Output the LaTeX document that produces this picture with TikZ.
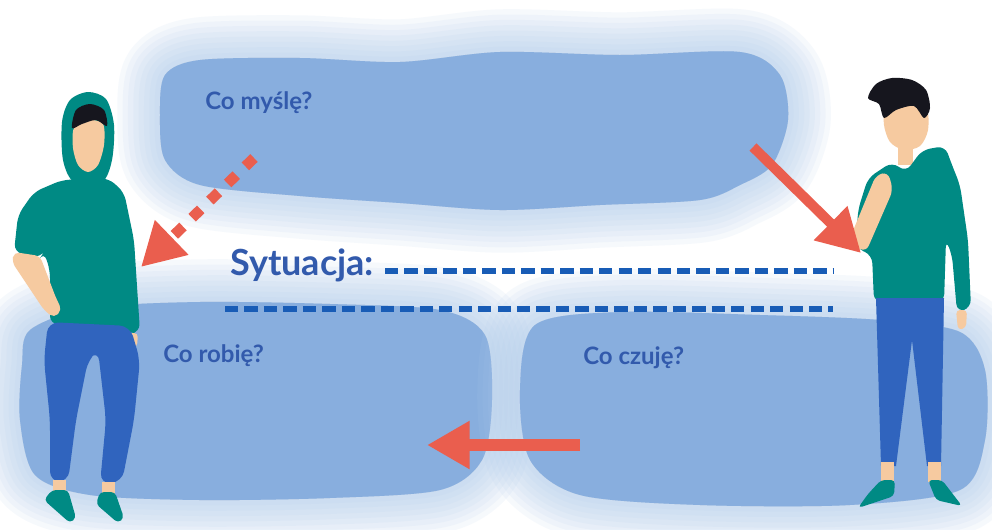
\documentclass[tikz,border=0pt]{standalone}
\usepackage{fontspec}
\setmainfont{Lato}
\usetikzlibrary{arrows.meta}

\definecolor{cloudblue}{RGB}{136,174,222}
\definecolor{cloudhaze}{RGB}{176,203,236}
\definecolor{textblue}{RGB}{50,90,172}
\definecolor{lineblue}{RGB}{24,92,182}
\definecolor{arrowred}{RGB}{234,94,78}
\definecolor{hoodie}{RGB}{0,138,132}
\definecolor{jeans}{RGB}{48,100,190}
\definecolor{skin}{RGB}{246,202,160}
\definecolor{hair}{RGB}{22,22,30}

\tikzset{
  haze/.style={draw=cloudhaze, fill=cloudhaze, line join=round, opacity=0.11},
  core/.style={fill=cloudblue},
  question/.style={anchor=west, inner sep=0pt, font=\bfseries\fontsize{18}{21}\selectfont, text=textblue},
  bigarrow/.style={draw=arrowred, line width=9pt, -{Triangle[length=32pt,width=34pt]}},
  dashline/.style={draw=lineblue, line width=4.2pt, dash pattern=on 10pt off 4.6pt},
}

\begin{document}
\begin{tikzpicture}[x=0.75pt,y=0.75pt,yscale=-1,xscale=1]

\useasboundingbox (0,0) rectangle (992,529);
\fill[white] (0,0) rectangle (992,529);

% clouds: soft edge first, then the core
\foreach \w in {64,56,...,8}
  \draw[haze, line width=\w] plot[smooth cycle] coordinates {(165,75) (200,60) (300,58) (400,62) (500,52) (620,55) (740,52) (780,75) (788,120) (772,165) (740,185) (700,200) (600,205) (500,210) (400,203) (300,196) (200,185) (165,160) (160,115)};
\fill[core] plot[smooth cycle] coordinates {(165,75) (200,60) (300,58) (400,62) (500,52) (620,55) (740,52) (780,75) (788,120) (772,165) (740,185) (700,200) (600,205) (500,210) (400,203) (300,196) (200,185) (165,160) (160,115)};

\foreach \w in {64,56,...,8}
  \draw[haze, line width=\w] plot[smooth cycle] coordinates {(30,330) (90,308) (200,302) (330,304) (440,310) (485,335) (492,400) (482,460) (440,490) (330,498) (200,500) (90,495) (35,475) (20,420) (22,365)};
\fill[core] plot[smooth cycle] coordinates {(30,330) (90,308) (200,302) (330,304) (440,310) (485,335) (492,400) (482,460) (440,490) (330,498) (200,500) (90,495) (35,475) (20,420) (22,365)};

\foreach \w in {64,56,...,8}
  \draw[haze, line width=\w] plot[smooth cycle] coordinates {(535,325) (620,312) (760,315) (880,320) (960,332) (985,370) (985,440) (960,490) (850,505) (700,505) (580,495) (530,460) (520,390)};
\fill[core] plot[smooth cycle] coordinates {(535,325) (620,312) (760,315) (880,320) (960,332) (985,370) (985,440) (960,490) (850,505) (700,505) (580,495) (530,460) (520,390)};

% left boy in the hood
\fill[hoodie] plot[smooth cycle] coordinates {(88,92) (106,99) (114,125) (112,160) (102,182) (74,182) (63,160) (62,122) (70,100)};
\fill[skin] plot[smooth cycle] coordinates {(74,128) (88,120) (103,124) (104,145) (98,165) (88,172) (78,165) (73,148)};
\fill[hair] plot[smooth cycle] coordinates {(72,128) (76,110) (90,104) (104,110) (107,126) (96,120) (82,124)};
\fill[hoodie, rounded corners=6] (62,180) -- (108,178) -- (124,192) -- (134,240) -- (140,332) -- (127,334) -- (125,328) -- (50,324) -- (50,270) -- (44,252) -- (40,258) -- (14,252) -- (18,215) -- (34,192) -- cycle;
\fill[skin, rounded corners=4] (14,252) -- (40,256) -- (56,298) -- (62,310) -- (54,318) -- (44,310) -- (12,262) -- cycle;
\fill[skin, rounded corners=3] (127,333) -- (138,333) -- (137,347) -- (130,350) -- cycle;
\fill[jeans, rounded corners=8] (48,322) -- (130,326) -- (140,360) -- (134,420) -- (122,482) -- (100,484) -- (106,420) -- (98,350) -- (88,360) -- (76,420) -- (68,482) -- (50,482) -- (50,420) -- (44,360) -- cycle;
\fill[skin] (53,480) rectangle (66,494);
\fill[skin] (102,482) rectangle (115,496);
\fill[hoodie, rounded corners=3] (52,490) -- (68,490) -- (76,518) -- (70,523) -- (44,500) -- cycle;
\fill[hoodie, rounded corners=3] (100,492) -- (115,492) -- (124,518) -- (118,523) -- (96,504) -- cycle;

% right boy
\fill[skin] plot[smooth cycle] coordinates {(886,110) (905,104) (926,108) (928,130) (920,146) (904,150) (890,142) (884,125)};
\fill[hair] plot[smooth cycle] coordinates {(868,98) (876,84) (892,78) (912,80) (926,90) (930,108) (924,118) (914,106) (896,110) (884,118) (879,104)};
\fill[skin] (898,140) rectangle (913,165);
\fill[hoodie, rounded corners=6] (868,178) -- (892,162) -- (906,172) -- (922,150) -- (945,146) -- (952,165) -- (960,185) -- (968,240) -- (971,308) -- (957,312) -- (952,255) -- (946,240) -- (944,302) -- (874,302) -- (872,255) -- (856,248) -- (858,210) -- cycle;
\fill[skin, rounded corners=5] (848,243) -- (876,175) -- (888,172) -- (893,190) -- (866,252) -- cycle;
\fill[skin, rounded corners=3] (956,310) -- (967,310) -- (966,328) -- (958,330) -- cycle;
\fill[jeans] (876,298) -- (944,298) -- (941,466) -- (927,466) -- (912,340) -- (896,466) -- (881,466) -- cycle;
\fill[skin] (881,462) rectangle (894,482);
\fill[skin] (928,462) rectangle (941,482);
\fill[hoodie, rounded corners=3] (881,480) -- (895,480) -- (894,496) -- (858,508) -- (868,494) -- cycle;
\fill[hoodie, rounded corners=3] (928,480) -- (942,480) -- (962,506) -- (936,500) -- cycle;

% texts
\node[question] (think) at (205,103) {Co myślę?};
\node[question] (do) at (163,356) {Co robię?};
\node[question] (feel) at (583,358) {Co czuję?};
\node[anchor=west, inner sep=0pt, font=\bfseries\fontsize{27}{30}\selectfont, text=textblue] (situation) at (230,265) {Sytuacja:};

% lines to fill in
\coordinate (line1) at (833,271);
\coordinate (line2) at (833,309);
\draw[dashline] (385,271) -- (line1);
\draw[dashline] (225,309) -- (line2);

% arrows
\coordinate (thinkfrom) at (254,158);
\coordinate (thinkto) at (141,267);
\coordinate (feelfrom) at (753,147);
\coordinate (feelto) at (861,253);
\coordinate (dofrom) at (580,445);
\coordinate (doto) at (427,445);
\draw[bigarrow, line width=8pt, dash pattern=on 9pt off 9.5pt] (thinkfrom) -- (thinkto);
\draw[bigarrow, line width=7.5pt] (feelfrom) -- (feelto);
\draw[bigarrow] (dofrom) -- (doto);

\end{tikzpicture}
\end{document}
